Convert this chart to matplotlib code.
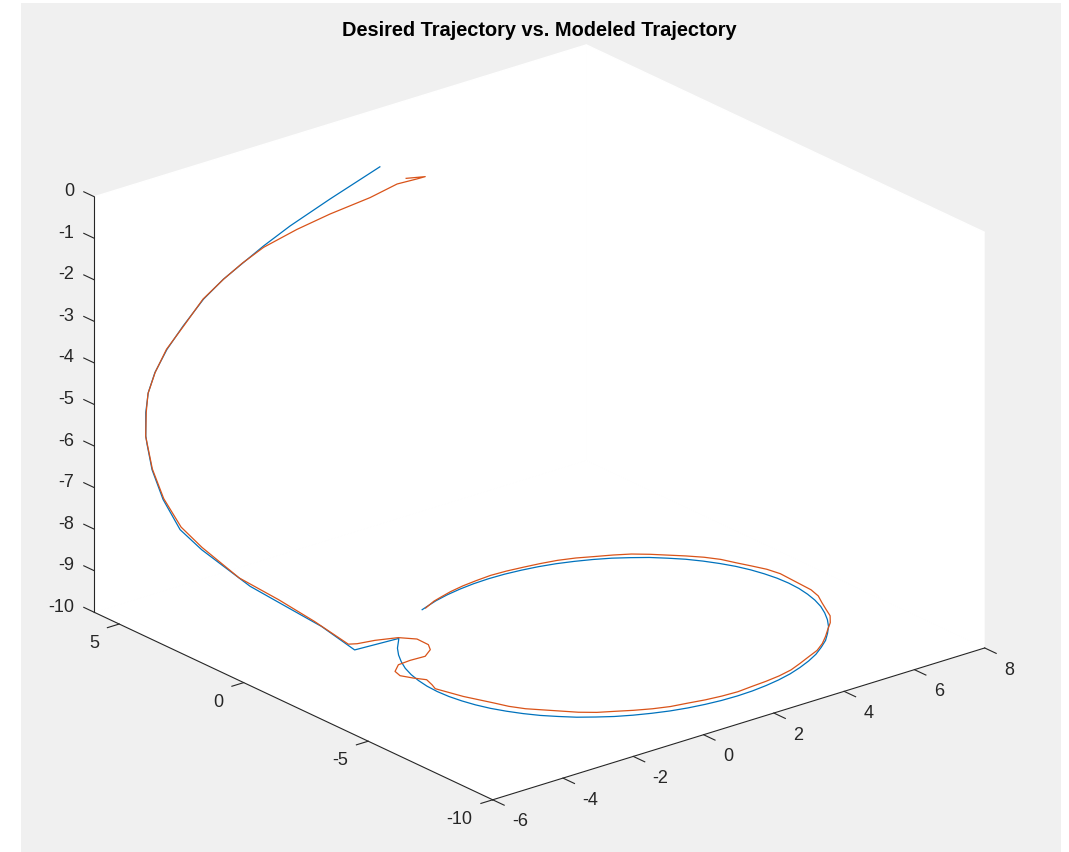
import numpy as np
import matplotlib
matplotlib.use("Agg")
import matplotlib.pyplot as plt
from matplotlib.patches import Rectangle

plt.rcParams['font.family'] = ['Liberation Sans', 'DejaVu Sans']
plt.rcParams['axes.unicode_minus'] = False
plt.rcParams['axes3d.automargin'] = False

# desired trajectory (blue): descending arc, short hop, circle on the floor
des_x = [0.00, -1.00, -1.80, -2.35, -2.78, -3.20, -3.63, -4.11, -4.50, -4.82,
         -5.04, -5.18, -5.30, -5.32, -5.37, -5.34, -5.21, -4.95, -4.70, -4.33,
         -3.83, -3.34, -2.90,
         -1.72, -1.83, -2.10, -2.33, -2.53, -2.70, -2.83, -2.92, -2.98, -3.00,
         -2.98, -2.92, -2.83, -2.70, -2.53, -2.33, -2.10, -1.83, -1.54, -1.21,
         -0.87, -0.50, -0.11, 0.29, 0.71, 1.13, 1.56, 2.00, 2.44, 2.87,
         3.29, 3.71, 4.11, 4.50, 4.87, 5.21, 5.54, 5.83, 6.10, 6.33,
         6.53, 6.70, 6.83, 6.92, 6.98, 7.00, 6.98, 6.92, 6.83, 6.70,
         6.53, 6.33, 6.10, 5.83, 5.54, 5.21, 4.87, 4.50, 4.11, 3.71,
         3.29, 2.87, 2.44, 2.00, 1.56, 1.13, 0.71, 0.29, 0.05, -0.27]
des_y = [3.00, 3.59, 4.06, 4.35, 4.56, 4.77, 4.96, 5.10, 5.20, 5.23,
         5.19, 5.09, 4.92, 4.84, 4.57, 4.17, 3.67, 3.17, 2.73, 2.10,
         1.36, 0.63, -0.08,
         -0.19, -0.33, -0.67, -1.04, -1.43, -1.83, -2.25, -2.67, -3.10, -3.54,
         -3.98, -4.41, -4.83, -5.25, -5.65, -6.04, -6.41, -6.75, -7.08, -7.37,
         -7.64, -7.87, -8.07, -8.24, -8.37, -8.46, -8.52, -8.54, -8.52, -8.46,
         -8.37, -8.24, -8.07, -7.87, -7.64, -7.37, -7.08, -6.75, -6.41, -6.04,
         -5.65, -5.25, -4.83, -4.41, -3.98, -3.54, -3.10, -2.67, -2.25, -1.83,
         -1.43, -1.04, -0.67, -0.33, 0.00, 0.29, 0.56, 0.79, 0.99, 1.16,
         1.29, 1.38, 1.44, 1.46, 1.44, 1.38, 1.29, 1.16, 1.06, 0.92]
des_z = [0.00, -0.68, -1.25, -1.67, -2.02, -2.37, -2.79, -3.35, -3.84, -4.32,
         -4.74, -5.15, -5.64, -5.81, -6.33, -6.94, -7.56, -7.97, -8.27, -8.71,
         -9.12, -9.52, -10.0] + [-10.0] * 70

# modeled trajectory (orange)
mod_x = [0.38, 0.71, 0.56, 0.20, -0.32, -1.08, -1.71, -2.36, -2.80, -3.18,
         -3.65, -4.09, -4.52, -4.80, -5.06, -5.16, -5.31, -5.34, -5.30, -5.16,
         -4.92, -4.47, -3.92, -3.43, -2.98,
         -2.63, -2.20, -1.70, -1.43, -1.44, -1.59, -1.92, -2.33, -2.69, -2.99,
         -3.06, -2.92, -2.75, -2.84, -2.93, -2.86, -2.73,
         -2.44, -2.31, -2.11, -1.85, -1.59, -1.33, -1.02, -0.66, -0.31, 0.07,
         0.46, 0.88, 1.30, 1.73, 2.16, 2.59, 3.02, 3.45, 3.87, 4.26,
         4.64, 5.03, 5.37, 5.68, 5.97, 6.27, 6.52, 6.69, 6.86, 7.04,
         7.14, 7.16, 7.18, 7.20, 7.13, 6.99, 6.84, 6.70, 6.49, 6.23,
         5.95, 5.67, 5.36, 5.01, 4.63, 4.26, 3.86, 3.44, 3.02, 2.59,
         2.16, 1.73, 1.30, 0.88, 0.48, 0.24, -0.15]
mod_y = [2.48, 2.18, 2.30, 2.59, 2.94, 3.48, 3.92, 4.34, 4.57, 4.79,
         4.95, 5.11, 5.19, 5.25, 5.17, 5.10, 4.91, 4.60, 4.20, 3.70,
         3.20, 2.34, 1.53, 0.78, 0.06,
         0.20, 0.09, -0.14, -0.51, -0.98, -1.27, -1.53, -1.50, -1.54, -1.83,
         -2.13, -2.46, -2.76, -3.10, -3.36, -3.66, -4.21,
         -5.04, -5.44, -5.83, -6.17, -6.51, -6.85, -7.15, -7.39, -7.63, -7.85,
         -8.02, -8.12, -8.23, -8.30, -8.33, -8.28, -8.24, -8.17, -8.05, -7.86,
         -7.66, -7.46, -7.19, -6.88, -6.56, -6.24, -5.88, -5.47, -5.07, -4.67,
         -4.24, -3.80, -3.36, -2.92, -2.48, -2.07, -1.66, -1.24, -0.86, -0.51,
         -0.18, 0.15, 0.46, 0.70, 0.92, 1.14, 1.31, 1.42, 1.50, 1.57,
         1.60, 1.56, 1.50, 1.40, 1.26, 1.17, 0.95]
mod_z = [-0.23, -0.19, -0.24, -0.35, -0.64, -0.99, -1.32, -1.70, -2.03, -2.38,
         -2.78, -3.36, -3.83, -4.33, -4.75, -5.15, -5.64, -6.33, -6.94, -7.52,
         -7.93, -8.54, -8.98, -9.42, -9.88] + [-10.0] * 74

x_ticks = [-6, -4, -2, 0, 2, 4, 6, 8]
y_ticks = [-10, -5, 0, 5]
z_ticks = [-10, -9, -8, -7, -6, -5, -4, -3, -2, -1, 0]
XLIM, YLIM, ZLIM = (-6, 8), (-10, 6), (-10, 0)

W, H = 1069, 853
AXC = '#262626'
fig = plt.figure(figsize=(W / 100, H / 100), dpi=100, facecolor='white')
fig.add_artist(Rectangle((21 / W, 0), (1061 - 21) / W, (853 - 4) / H,
                         transform=fig.transFigure, facecolor='#F0F0F0',
                         edgecolor='none', zorder=-10))

ax = fig.add_axes([0.05, 0.05, 0.9, 0.9], projection='3d', proj_type='ortho')
ax.patch.set_visible(False)
ax.view_init(elev=22.4, azim=-129)
ax.set_box_aspect((1, 1, 0.71))

ax.plot(des_x, des_y, des_z, color='#0072BD', lw=0.9)
ax.plot(mod_x, mod_y, mod_z, color='#D95319', lw=0.9)

ax.set_xlim(*XLIM)
ax.set_ylim(*YLIM)
ax.set_zlim(*ZLIM)
ax.set_xticks(x_ticks)
ax.set_yticks(y_ticks)
ax.set_zticks(z_ticks)
ax.grid(False)
for axis, fin, fout in ((ax.xaxis, 0.36, 0.0), (ax.yaxis, 0.30, 0.0), (ax.zaxis, 0.0, 0.33)):
    axis.set_pane_color((1, 1, 1, 1))
    axis.pane.set_edgecolor('white')
    axis.line.set_color(AXC)
    axis.line.set_linewidth(0.8)
    axis._axinfo['tick']['inward_factor'] = fin
    axis._axinfo['tick']['outward_factor'] = fout
    axis._axinfo['tick']['linewidth'] = {True: 0.8, False: 0.8}
    axis._axinfo['tick']['color'] = AXC
    axis.set_tick_params(label1On=False, label2On=False, colors=AXC)
    axis.label.set_visible(False)
ax.zaxis._get_tickdir = lambda *a, **k: 1


def to_px(xs, ys, zs):
    # project 3D points to figure pixels with the axes' own projection
    M = ax.get_proj()
    v = M @ np.vstack([xs, ys, zs, np.ones(len(xs))])
    return ax.transData.transform(np.column_stack([v[0] / v[3], v[1] / v[3]]))


# fit the projected box onto the reference box position
fig.canvas.draw()
cx, cy, cz = np.meshgrid(XLIM, YLIM, ZLIM)
pts = to_px(cx.ravel(), cy.ravel(), cz.ravel())
x0, x1 = pts[:, 0].min(), pts[:, 0].max()
y0, y1 = pts[:, 1].min(), pts[:, 1].max()
tx0, tx1, ty0, ty1 = 94.3, 984.7, H - 800.0, H - 46.7
f = (tx1 - tx0) / (x1 - x0)
pos = ax.get_position()
acx, acy = (pos.x0 + pos.width / 2) * W, (pos.y0 + pos.height / 2) * H
sw, sh = pos.width * W * f, pos.height * H * f
ncx = (tx0 + tx1) / 2 - f * ((x0 + x1) / 2 - acx)
ncy = (ty0 + ty1) / 2 - f * ((y0 + y1) / 2 - acy)
ax.set_position([(ncx - sw / 2) / W, (ncy - sh / 2) / H, sw / W, sh / H])
fig.canvas.draw()

# tick labels, placed like MATLAB's (projected from the box edges)
nx, ny, nz = len(x_ticks), len(y_ticks), len(z_ticks)
for t, (px, py) in zip(x_ticks, to_px(x_ticks, [YLIM[0] - 0.775] * nx, [ZLIM[0] - 0.29] * nx)):
    fig.text(px / W, py / H, str(t), ha='left', va='center', fontsize=13, color=AXC)
for t, (px, py) in zip(y_ticks, to_px([XLIM[0] - 0.57] * ny, y_ticks, [ZLIM[0] - 0.30] * ny)):
    fig.text(px / W, py / H, str(t), ha='right', va='center', fontsize=13, color=AXC)
for t, (px, py) in zip(z_ticks, to_px([XLIM[0] - 0.13] * nz, [YLIM[1] + 0.63] * nz, z_ticks)):
    fig.text(px / W, py / H, str(t), ha='right', va='center', fontsize=13, color=AXC)

fig.text(539.5 / W, 1 - 31 / H, 'Desired Trajectory vs. Modeled Trajectory',
         ha='center', va='center', fontsize=14.4, fontweight='bold', color='black')

fig.savefig('out.png', dpi=100, facecolor=fig.get_facecolor())
